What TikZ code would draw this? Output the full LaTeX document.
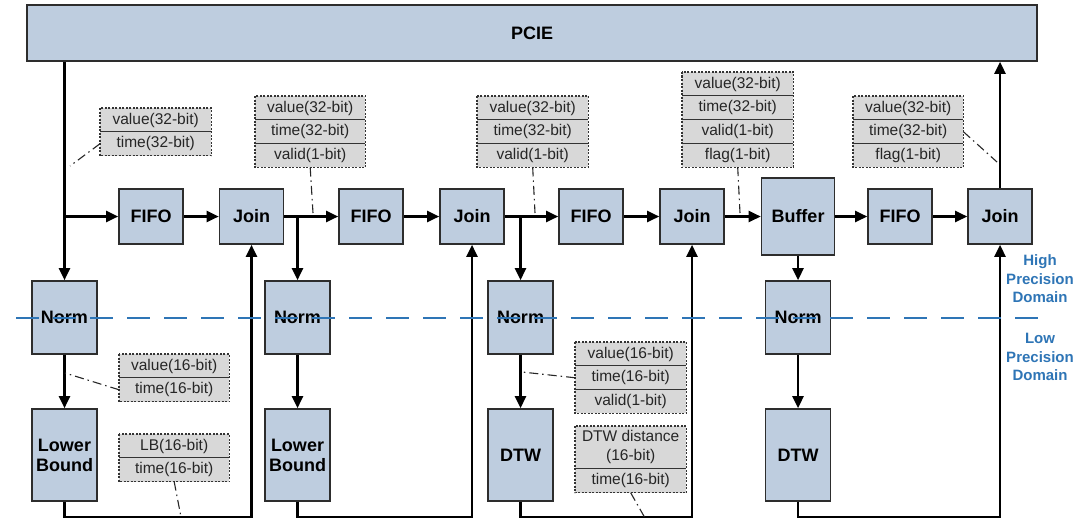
\documentclass[tikz,border=0pt]{standalone}
\usepackage{fontspec}
\setmainfont{Liberation Sans}
\usetikzlibrary{arrows.meta}

\definecolor{blockfill}{RGB}{190,205,223}
\definecolor{blockline}{RGB}{45,45,45}
\definecolor{tagfill}{RGB}{216,216,216}
\definecolor{domainblue}{RGB}{46,117,182}

% A stack of signal-field rows: name, x, y (top left), width, rows, entries
\newcommand\tagstack[6]{%
  \foreach \txt [count=\i] in {#6} {
    \node[tagrow, minimum width=#4pt, minimum height=23.7pt, anchor=north west]
      (#1-\i) at (#2,{#3+23.7*(\i-1)}) {\txt};
    \ifnum\i>1 \draw[tagrule] (#1-\i.north west) -- (#1-\i.north east);\fi
  }
  \draw[tagedge] (#1-1.north west) rectangle (#1-#5.south east);
}

\begin{document}
\begin{tikzpicture}[x=1pt,y=-1pt,
  block/.style={draw=blockline, fill=blockfill, line width=1.6pt, inner sep=0pt,
    font=\fontsize{18}{20}\selectfont\bfseries, align=center},
  unit/.style={block, minimum width=64pt, minimum height=55pt},
  tallunit/.style={block, minimum width=65pt, minimum height=73pt},
  deepunit/.style={block, minimum width=65pt, minimum height=92pt},
  flow/.style={line width=2.5pt, -{Triangle[length=12pt,width=11pt]}},
  tagrow/.style={fill=tagfill, inner sep=0pt, text=black!85,
    font=\fontsize{15.5}{19}\selectfont, align=center},
  tagedge/.style={draw=black!80, line width=1.2pt, dash pattern=on 2pt off 1.5pt},
  tagrule/.style={draw=black!80, line width=1pt},
  callout/.style={draw=black!85, line width=1.1pt, dash pattern=on 9pt off 4pt on 1.5pt off 4pt},
  domainline/.style={draw=domainblue, line width=1.3pt, dash pattern=on 23pt off 14pt, dash phase=29pt},
  domaintext/.style={text=domainblue, align=center, inner sep=0pt,
    font=\fontsize{15}{18.5}\selectfont\bfseries},
]
\fill[white] (0,0) rectangle (1084,519);
\useasboundingbox (0,0) rectangle (1084,519);

% ---- host interface ----
\node[block, minimum width=1010pt, minimum height=56pt] (pcie) at (532,33) {PCIE};

% ---- high precision pipeline ----
\node[unit] (fifo1) at (151,216.5) {FIFO};
\node[unit] (join1) at (251.5,216.5) {Join};
\node[unit] (fifo2) at (371,216.5) {FIFO};
\node[unit] (join2) at (472,216.5) {Join};
\node[unit] (fifo3) at (591,216.5) {FIFO};
\node[unit] (join3) at (692,216.5) {Join};
\node[block, minimum width=73pt, minimum height=77pt] (buffer) at (798,216.5) {Buffer};
\node[unit] (fifo4) at (900,216.5) {FIFO};
\node[unit] (join4) at (1000,216.5) {Join};

% ---- normalisation and low precision stages ----
\node[tallunit] (norm1) at (64.5,317.5) {Norm};
\node[tallunit] (norm2) at (297.5,317.5) {Norm};
\node[tallunit] (norm3) at (520.5,317.5) {Norm};
\node[tallunit] (norm4) at (798,317.5) {Norm};
\node[deepunit] (lb1) at (64.5,455) {Lower\\Bound};
\node[deepunit] (lb2) at (297.5,455) {Lower\\Bound};
\node[deepunit] (dtw3) at (520.5,455) {DTW};
\node[deepunit] (dtw4) at (798,455) {DTW};

% ---- data flow ----
\coordinate (floor) at (0,517);
\draw[flow] (norm1.north |- pcie.south) -- (norm1.north);
\draw[flow] (norm1.north |- fifo1.west) -- (fifo1.west);
\draw[flow] (fifo1) -- (join1);
\draw[flow] (join1) -- (fifo2);
\draw[flow] (norm2.north |- join1.east) -- (norm2.north);
\draw[flow] (fifo2) -- (join2);
\draw[flow] (join2) -- (fifo3);
\draw[flow] (norm3.north |- join2.east) -- (norm3.north);
\draw[flow] (fifo3) -- (join3);
\draw[flow] (join3) -- (buffer);
\draw[flow] (buffer) -- (fifo4);
\draw[flow] (fifo4) -- (join4);
\draw[flow] (buffer) -- (norm4);
\draw[flow] (join4.north) -- (join4.north |- pcie.south);

\draw[flow] (norm1) -- (lb1);
\draw[flow] (norm2) -- (lb2);
\draw[flow] (norm3) -- (dtw3);
\draw[flow] (norm4) -- (dtw4);

\draw[flow] (lb1.south) |- (floor -| join1.south) -- (join1.south);
\draw[flow] (lb2.south) |- (floor -| join2.south) -- (join2.south);
\draw[flow] (dtw3.south) |- (floor -| join3.south) -- (join3.south);
\draw[flow] (dtw4.south) |- (floor -| join4.south) -- (join4.south);

% ---- signal field annotations ----
\tagstack{t1}{100}{108}{111}{2}{value(32-bit),time(32-bit)}
\tagstack{t2}{255}{96}{110}{3}{value(32-bit),time(32-bit),valid(1-bit)}
\tagstack{t3}{477}{96}{111}{3}{value(32-bit),time(32-bit),valid(1-bit)}
\tagstack{t4}{682}{72}{111}{4}{value(32-bit),time(32-bit),valid(1-bit),flag(1-bit)}
\tagstack{t5}{853}{96}{110}{3}{value(32-bit),time(32-bit),flag(1-bit)}
\tagstack{t6}{119}{354}{110}{2}{value(16-bit),time(16-bit)}
\tagstack{t7}{119}{434}{110}{2}{LB(16-bit),time(16-bit)}
\tagstack{t8}{575}{342}{111}{3}{value(16-bit),time(16-bit),valid(1-bit)}

\node[tagrow, minimum width=111pt, minimum height=42pt, anchor=north west] (t9-1) at (575,426) {DTW distance\\(16-bit)};
\node[tagrow, minimum width=111pt, minimum height=24pt, anchor=north west] (t9-2) at (t9-1.south west) {time(16-bit)};
\draw[tagrule] (t9-2.north west) -- (t9-2.north east);
\draw[tagedge] (t9-1.north west) rectangle (t9-2.south east);

% ---- callout leaders ----
\coordinate (c1) at (70,166);
\coordinate (c2) at (313,213);
\coordinate (c3) at (535,213);
\coordinate (c4) at (740,213);
\coordinate (c5) at (997,162);
\coordinate (c6) at (65,373);
\coordinate (c7) at (181,517);
\coordinate (c8) at (522,372);
\coordinate (c9) at (645,518);
\draw[callout] (t1-2.west) -- (c1);
\draw[callout] (t2-3.south) -- (c2);
\draw[callout] (t3-3.south) -- (c3);
\draw[callout] (t4-4.south) -- (c4);
\draw[callout] (t5-2.east) -- (c5);
\draw[callout] (t6-2.west) -- (c6);
\draw[callout] (t7-2.south) -- (c7);
\draw[callout] (t8-2.west) -- (c8);
\draw[callout] (t9-2.south) -- (c9);

% ---- precision domain boundary ----
\coordinate (dl) at (8,318);
\coordinate (dr) at (1040,318);
\draw[domainline] (dl) -- (dr);
\node[domaintext] (high) at (1040,279) {High\\Precision\\Domain};
\node[domaintext] (low) at (1040,357) {Low\\Precision\\Domain};
\end{tikzpicture}
\end{document}
